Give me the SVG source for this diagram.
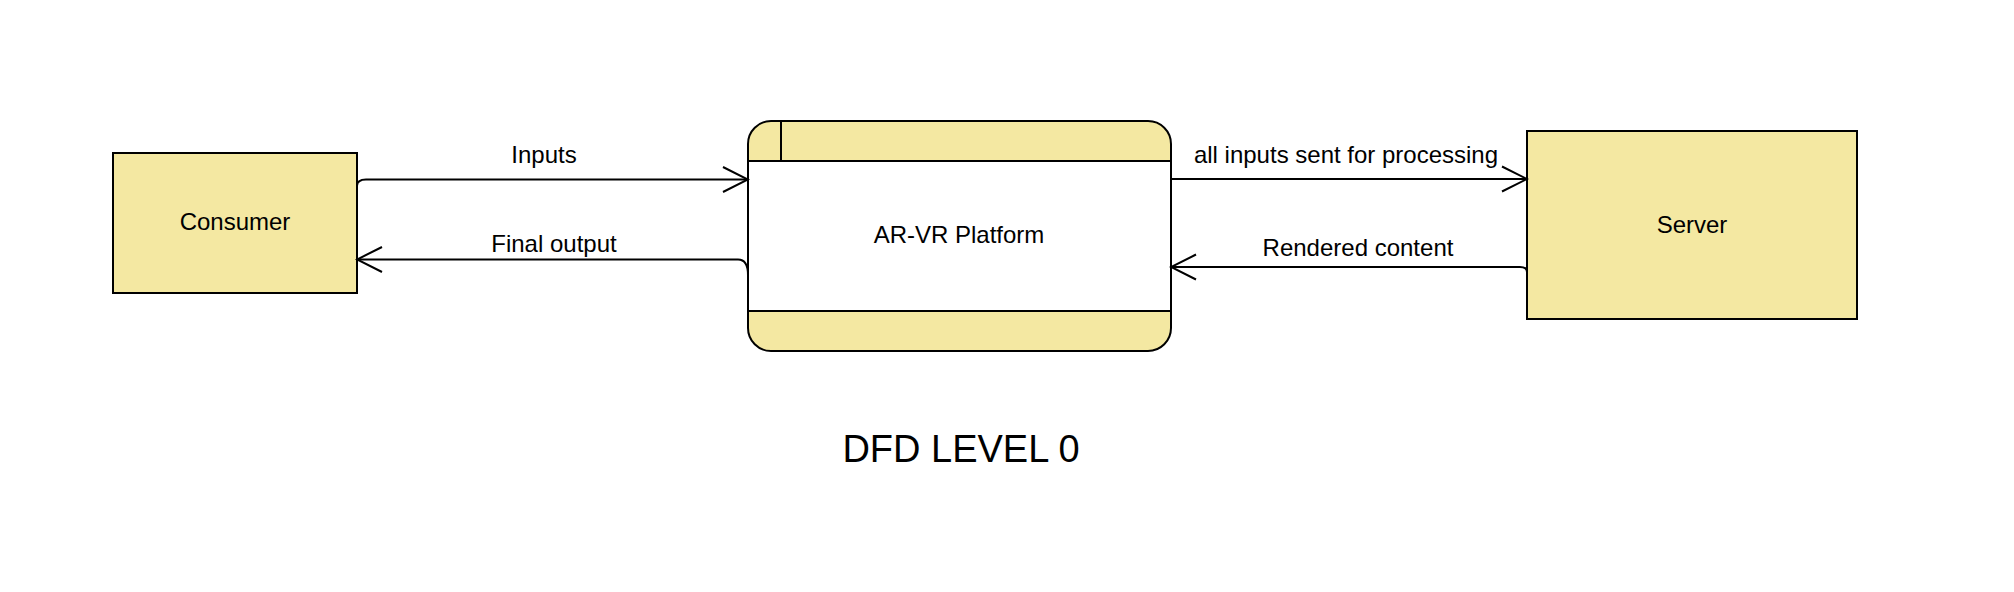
<svg xmlns="http://www.w3.org/2000/svg" width="2014" height="592" viewBox="0 0 2014 592">
<style>
.box{fill:#f4e8a2;stroke:#000;stroke-width:2}
.ln{fill:none;stroke:#000;stroke-width:2}
text{font-family:"Liberation Sans",Arial,sans-serif;font-size:24px;fill:#000;text-anchor:middle}
.title{font-size:38px}
</style>
<defs>
<marker id="open" viewBox="0 0 28 28" refX="26" refY="14" markerWidth="28" markerHeight="28" markerUnits="userSpaceOnUse" orient="auto">
<path d="M1,1.5 L26,14 L1,26.5" fill="none" stroke="#000" stroke-width="2"/>
</marker>
</defs>
<rect width="2014" height="592" fill="#fff"/>
<g id="consumer">
<rect class="box" x="113" y="153" width="244" height="140"/>
<text x="235" y="230">Consumer</text>
</g>
<g id="platform">
<rect x="748" y="121" width="423" height="230" rx="23" ry="23" fill="#f4e8a2"/>
<rect x="748" y="161" width="423" height="150" fill="#fff"/>
<line class="ln" x1="748" y1="161" x2="1171" y2="161"/>
<line class="ln" x1="748" y1="311" x2="1171" y2="311"/>
<line class="ln" x1="781" y1="121" x2="781" y2="161"/>
<rect x="748" y="121" width="423" height="230" rx="23" ry="23" class="ln"/>
<text x="959" y="243">AR-VR Platform</text>
</g>
<g id="server">
<rect class="box" x="1527" y="131" width="330" height="188"/>
<text x="1692" y="233">Server</text>
</g>
<g id="connectors">
<path class="ln" d="M357,186 Q357,179.5 366,179.5 L748,179.5" marker-end="url(#open)"/>
<path class="ln" d="M748,275 Q748,259.5 738,259.5 L357,259.5" marker-end="url(#open)"/>
<path class="ln" d="M1171,179 L1527,179" marker-end="url(#open)"/>
<path class="ln" d="M1527,272 Q1527,267 1520,267 L1171,267" marker-end="url(#open)"/>
<text x="544" y="163">Inputs</text>
<text x="554" y="252">Final output</text>
<text x="1346" y="163">all inputs sent for processing</text>
<text x="1358" y="256">Rendered content</text>
</g>
<text class="title" x="961" y="462">DFD LEVEL 0</text>
</svg>
